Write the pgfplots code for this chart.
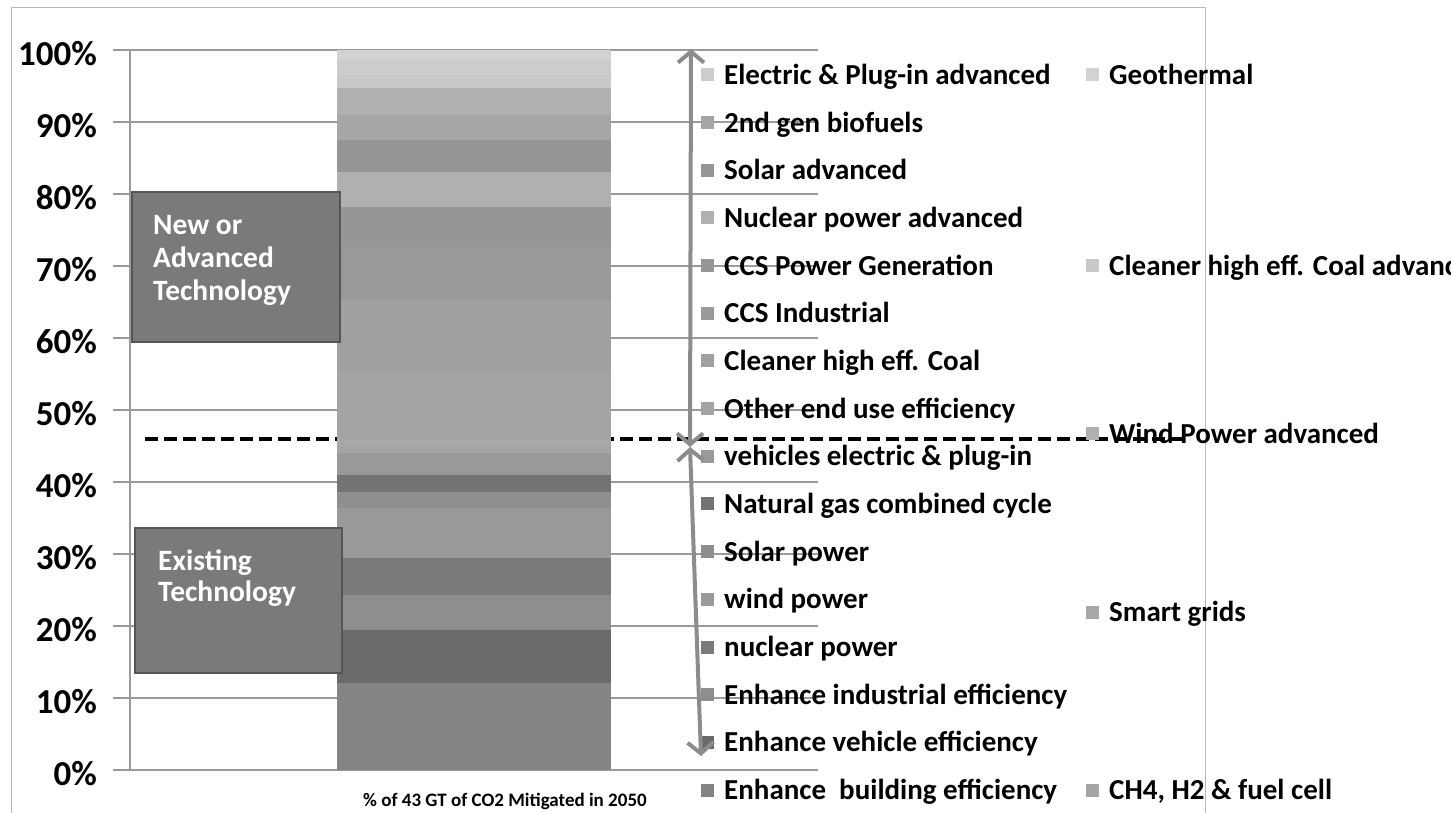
\documentclass[border=0pt]{standalone}
\usepackage{fontspec}
\setmainfont{Carlito}
\usepackage{pgfplots}
\pgfplotsset{compat=1.18}
\usetikzlibrary{arrows.meta}

\definecolor{s01}{HTML}{858585}
\definecolor{s02}{HTML}{6A6A6A}
\definecolor{s03}{HTML}{8E8E8E}
\definecolor{s04}{HTML}{7A7A7A}
\definecolor{s05}{HTML}{999999}
\definecolor{s06}{HTML}{8F8F8F}
\definecolor{s07}{HTML}{737373}
\definecolor{s08}{HTML}{999999}
\definecolor{s09}{HTML}{A5A5A5}
\definecolor{s10}{HTML}{A8A8A8}
\definecolor{s11}{HTML}{A4A4A4}
\definecolor{s12}{HTML}{A0A0A0}
\definecolor{s13}{HTML}{9A9A9A}
\definecolor{s14}{HTML}{969696}
\definecolor{s15}{HTML}{B0B0B0}
\definecolor{s16}{HTML}{959595}
\definecolor{s17}{HTML}{A6A6A6}
\definecolor{s18}{HTML}{B0B0B0}
\definecolor{s19}{HTML}{C8C8C8}
\definecolor{s20}{HTML}{CCCCCC}
\definecolor{s21}{HTML}{D2D2D2}
\definecolor{gridgray}{HTML}{9A9A9A}
\definecolor{boxfill}{HTML}{7A7A7A}
\definecolor{boxdraw}{HTML}{555555}
\definecolor{arrowgray}{HTML}{8C8C8C}

\newcommand{\legfont}{\fontsize{29}{33}\selectfont\bfseries}
\newcommand{\legitem}[4]{%
  \fill[#3] ({#1-6.5},{812-#2-6.5}) rectangle ++(13,13);
  \node[anchor=base west, inner sep=0pt, font=\legfont] at ({#1+17},{812-#2-9.5}) {#4};}

\begin{document}
\begin{tikzpicture}[x=1pt,y=1pt]
\useasboundingbox (0,0) rectangle (1451,812);
\clip (0,0) rectangle (1451,812);

% chart area border
\draw[gray!55, line width=1pt] (11,-5) -- (11,804) -- (1205,804) -- (1205,-5);

\begin{axis}[
  at={(130pt,42pt)}, anchor=south west,
  scale only axis, width=688pt, height=720pt,
  xmin=-0.5, xmax=0.5, ymin=0, ymax=100,
  ybar stacked, bar width=274pt,
  xtick=\empty,
  ytick={0,10,20,30,40,50,60,70,80,90,100},
  yticklabels={0\%,10\%,20\%,30\%,40\%,50\%,60\%,70\%,80\%,90\%,100\%},
  yticklabel style={font=\fontsize{35}{35}\selectfont\bfseries, inner sep=0pt, anchor=east, xshift=-16pt, yshift=-4pt},
  ymajorgrids, grid style={draw=gridgray, line width=1.3pt},
  axis lines*=left,
  axis line style={draw=gridgray, line width=1.3pt},
  major tick length=17pt, tick align=outside,
  ytick style={draw=gridgray, line width=1.3pt},
  clip=false,
]
\addplot[fill=s01, draw=none] coordinates {(0,12.1)};
\addplot[fill=s02, draw=none] coordinates {(0,7.3)};
\addplot[fill=s03, draw=none] coordinates {(0,4.9)};
\addplot[fill=s04, draw=none] coordinates {(0,5.2)};
\addplot[fill=s05, draw=none] coordinates {(0,6.9)};
\addplot[fill=s06, draw=none] coordinates {(0,2.2)};
\addplot[fill=s07, draw=none] coordinates {(0,2.4)};
\addplot[fill=s08, draw=none] coordinates {(0,3.0)};
\addplot[fill=s09, draw=none] coordinates {(0,1.0)};
\addplot[fill=s10, draw=none] coordinates {(0,1.0)};
\addplot[fill=s11, draw=none] coordinates {(0,9.5)};
\addplot[fill=s12, draw=none] coordinates {(0,9.8)};
\addplot[fill=s13, draw=none] coordinates {(0,7.3)};
\addplot[fill=s14, draw=none] coordinates {(0,5.6)};
\addplot[fill=s15, draw=none] coordinates {(0,4.9)};
\addplot[fill=s16, draw=none] coordinates {(0,4.4)};
\addplot[fill=s17, draw=none] coordinates {(0,3.5)};
\addplot[fill=s18, draw=none] coordinates {(0,3.7)};
\addplot[fill=s19, draw=none] coordinates {(0,1.8)};
\addplot[fill=s20, draw=none] coordinates {(0,2.0)};
\addplot[fill=s21, draw=none] coordinates {(0,1.5)};
% 46% boundary between existing and new technology
\draw[black, line width=3.5pt, dash pattern=on 13pt off 6pt]
  (rel axis cs:0.0218,0.46) -- (rel axis cs:1.5407,0.46);
\end{axis}

% text boxes
\draw[draw=boxdraw, fill=boxfill, line width=1.6pt] (132,470) rectangle (340,620);
\node[anchor=north west, inner sep=0pt, align=left, text=white,
      font=\fontsize{29.5}{33}\selectfont\bfseries] at (153,597) {New or\\Advanced\\Technology};
\draw[draw=boxdraw, fill=boxfill, line width=1.6pt] (135,139) rectangle (342,284);
\node[anchor=north west, inner sep=0pt, align=left, text=white,
      font=\fontsize{29.5}{31}\selectfont\bfseries] at (158,262) {Existing\\Technology};

% x label
\node[anchor=base, inner sep=0pt, font=\fontsize{19}{19}\selectfont\bfseries] at (505,6)
  {\% of 43 GT of CO2 Mitigated in 2050};

% legend, left column
\legitem{707}{75}{s20}{Electric \& Plug-in advanced}
\legitem{707}{122.7}{s17}{2nd gen biofuels}
\legitem{707}{170.3}{s16}{Solar advanced}
\legitem{707}{218}{s15}{Nuclear power advanced}
\legitem{707}{265.7}{s14}{CCS Power Generation}
\legitem{707}{313.3}{s13}{CCS Industrial}
\legitem{707}{361}{s12}{Cleaner high eff. Coal}
\legitem{707}{408.7}{s11}{Other end use efficiency}
\legitem{707}{456.3}{s08}{vehicles electric \& plug-in}
\legitem{707}{504}{s07}{Natural gas combined cycle}
\legitem{707}{551.7}{s06}{Solar power}
\legitem{707}{599.3}{s05}{wind power}
\legitem{707}{647}{s04}{nuclear power}
\legitem{707}{694.7}{s03}{Enhance industrial efficiency}
\legitem{707}{742.3}{s02}{Enhance vehicle efficiency}
\legitem{707}{790}{s01}{Enhance\ \ building efficiency}
% legend, right column
\legitem{1092}{75}{s21}{Geothermal}
\legitem{1092}{266}{s19}{Cleaner high eff. Coal advanced}
\legitem{1092}{434}{s18}{Wind Power advanced}
\legitem{1092}{612}{s10}{Smart grids}
\legitem{1092}{790}{s09}{CH4, H2 \& fuel cell}

% arrows
\draw[arrowgray, line width=4pt, {Straight Barb[length=11pt,width=26pt]}-{Straight Barb[length=11pt,width=26pt]}]
  (690,365) -- (691,763);
\draw[arrowgray, line width=4pt, {Straight Barb[length=11pt,width=26pt]}-{Straight Barb[length=11pt,width=26pt]}]
  (690,365) -- (701,56);
\end{tikzpicture}
\end{document}
